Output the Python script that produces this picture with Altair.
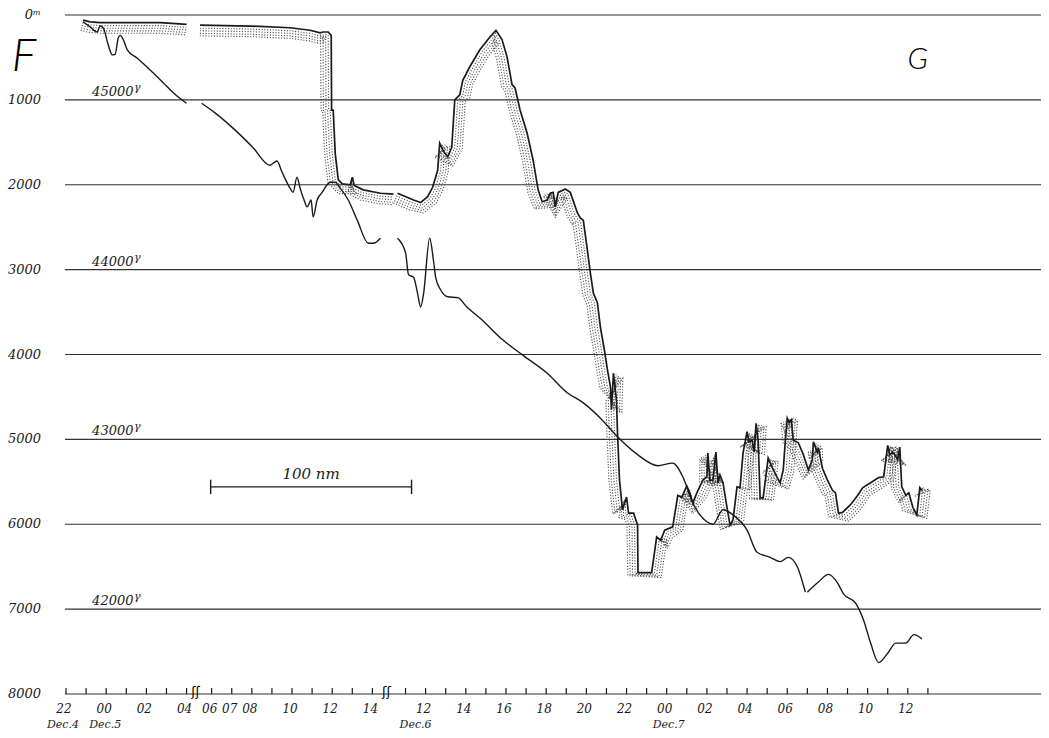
import altair as alt
import pandas as pd
import numpy as np

# ---------------- data ----------------
# Bathymetric profile: (distance along track [nm], depth [m]); record has gaps
depth_a = [(8.5, 60), (12, 80), (17, 90), (32, 90), (47, 90), (60, 110)]
depth_b = [(66.7, 120), (91.6, 130), (111.5, 150), (121.5, 180), (126.5, 210), (128, 200),
           (130.5, 200), (132, 240), (132.2, 1120), (133, 1120), (134, 1630), (135.5, 1940),
           (137.5, 1990), (141.5, 2000), (142.5, 1910), (143.5, 2010), (148, 2060),
           (156.5, 2100), (163, 2110)]
depth_c = [(165, 2100), (173, 2180), (176.5, 2210), (180, 2140), (182.5, 2030), (185, 1830),
           (186, 1510), (188, 1610), (190, 1670), (192, 1560), (193.5, 1000), (196, 940),
           (197.5, 770), (201, 610), (206, 410), (211, 260), (214, 180), (217, 290),
           (219.5, 490), (222, 820), (223.5, 860), (226, 1120), (229.5, 1390), (232.5, 1710),
           (235, 2060), (237, 2200), (239.5, 2180), (241, 2100), (242.5, 2090), (243.5, 2260),
           (245, 2090), (248.5, 2050), (251, 2090), (254.5, 2330), (256, 2390), (257.5, 2420),
           (259.5, 2770), (261, 3040), (262.5, 3280), (264.5, 3390), (266, 3680), (268, 3950),
           (269.5, 4180), (271, 4380), (271.5, 4650), (272.5, 4220), (274, 4540), (274.5, 4920),
           (275.5, 5480), (277, 5830), (279, 5680), (280, 5870), (282.5, 5870), (284.5, 6010),
           (284.7, 6570), (291.5, 6570), (294, 6150), (296, 6190), (298, 6070), (302, 6030),
           (304.5, 5660), (306.5, 5680), (309, 5550), (310.5, 5630), (312, 5750), (314, 5630),
           (317, 5480), (319, 5440), (319.5, 5160), (320.5, 5480), (322, 5480), (323.5, 5150),
           (324.5, 5510), (325.5, 5420), (327, 5510), (329, 5800), (330.5, 6010), (332, 5950),
           (334, 5560), (335.5, 5570), (337, 5160), (339, 4910), (340, 5030), (341.5, 5010),
           (342.5, 5150), (343.5, 4810), (344.5, 5010), (345.5, 5690), (347, 5690),
           (349.5, 5220), (351.5, 5330), (354, 5450), (355.5, 5510), (357, 5360), (358, 5030),
           (359, 4750), (360, 4800), (361, 4770), (362, 5010), (364.5, 5040), (367, 5180),
           (369.5, 5360), (371.5, 5240), (372, 5030), (374, 5150), (374.5, 5100),
           (376.5, 5340), (379, 5480), (381.5, 5600), (383, 5630), (384.5, 5870),
           (386.5, 5860), (390.5, 5770), (394, 5660), (396.5, 5570), (400.5, 5510),
           (404.5, 5450), (407, 5440), (409, 5070), (410, 5180), (411.5, 5150), (412.5, 5180),
           (414, 5240), (415, 5090), (416, 5560), (418, 5660), (419.5, 5630), (421.5, 5800),
           (423.5, 5890), (425, 5570), (426, 5600)]

# Total magnetic force: (distance along track [nm], F [gamma])
mag_a = [(8.5, 45460), (12, 45430), (15.5, 45400), (17, 45435), (18.5, 45425), (21, 45325),
         (23, 45265), (24.5, 45270), (26, 45365), (27, 45380), (28.5, 45355), (30.5, 45295),
         (35.5, 45245), (42, 45175), (48.5, 45100), (53.5, 45040), (60, 44980)]
mag_b = [(67.5, 44980), (74, 44925), (83, 44835), (93, 44720), (101.5, 44615), (103.5, 44630),
         (105, 44640), (107.5, 44575), (111.5, 44480), (113, 44455), (115, 44545),
         (116.5, 44480), (118.5, 44410), (120, 44370), (122, 44410), (123, 44310), (125, 44410),
         (127.5, 44455), (131.5, 44515), (134, 44515), (136.5, 44480), (140.5, 44410),
         (145, 44290), (150.5, 44155), (153, 44155), (156.5, 44185)]
mag_c = [(165, 44185), (169, 44100), (170.5, 43970), (173, 43955), (175, 43860), (176.5, 43780),
         (178, 43860), (181, 44185), (183, 44045), (184, 43955), (186.5, 43880), (190, 43840),
         (195, 43835), (199.5, 43780), (206, 43715), (217.5, 43585), (227.5, 43495),
         (239.5, 43390), (249.5, 43275), (257.5, 43215), (266, 43125), (274.5, 43015),
         (284.5, 42910), (294.5, 42845), (302, 42860), (307, 42780), (312, 42625), (319, 42515),
         (322, 42500), (327, 42585), (332, 42555), (339, 42465), (344, 42335), (350.5, 42305),
         (355.5, 42280), (359.5, 42305), (364, 42250), (368, 42100)]
mag_d = [(369, 42100), (374.5, 42160), (379.5, 42205), (384, 42155), (387, 42090), (393, 42035),
         (397, 41935), (400.5, 41800), (404.5, 41685), (409, 41740), (413, 41800), (418, 41800),
         (422, 41850), (426, 41825)]

# depth axis
depth_levels = [0, 1000, 2000, 3000, 4000, 5000, 6000, 7000, 8000]
depth_labels = ["0ᵐ", "1000", "2000", "3000", "4000", "5000", "6000", "7000", "8000"]
# magnetic reference levels (gamma) -> shown at depth 1000 + 2*(45000-F)
mag_levels = [45000, 44000, 43000, 42000]

# time axis (ship's track, 10 nm per hour)
tick_nm = [0, 10, 20, 30, 40, 50, 60,
           72.5, 82.5, 92.5, 102.5, 112.5, 122.5, 132.5, 142.5, 152.5,
           169, 179, 189, 199, 209, 219, 229, 239, 249, 259, 269, 279, 289, 299,
           309, 319, 329, 339, 349, 359, 369, 379, 389, 399, 409, 419, 429]
hour_label_nm = [0, 20, 40, 60, 72.5, 82.5, 92.5, 112.5, 132.5, 152.5,
                 179, 199, 219, 239, 259, 279, 299, 319, 339, 359, 379, 399, 419]
hour_labels = ["22", "00", "02", "04", "06", "07", "08", "10", "12", "14",
               "12", "14", "16", "18", "20", "22", "00", "02", "04", "06", "08", "10", "12"]
date_nm = [-1.5, 19.5, 174, 300]
date_labels = ["Dec.4", "Dec.5", "Dec.6", "Dec.7"]
break_nm = [64.5, 159.5]

scale_bar_nm = [72, 172]
scale_bar_depth = 5560

# ---------------- geometry ----------------
W, H = 976, 679
XMIN, XMAX = -0.5, 485.3
SX = W / (XMAX - XMIN)
SY = H / 8000.0

def mag_to_depth(f):
    return 1000 + 2 * (45000 - f)

def offset_curve(pts, off_px):
    P = np.array([[x * SX, d * SY] for x, d in pts], dtype=float)
    n = len(P)
    out = []
    for i in range(n):
        a = P[max(i - 1, 0)]
        b = P[min(i + 1, n - 1)]
        t = b - a
        L = np.hypot(t[0], t[1]) or 1.0
        nx, ny = -t[1] / L, t[0] / L
        q = P[i] + np.array([nx, ny]) * off_px
        out.append((q[0] / SX, q[1] / SY))
    return out

rows = []
for si, seg in enumerate([depth_a, depth_b, depth_c]):
    for i, (x, d) in enumerate(seg):
        rows.append({"key": f"b{si}", "i": i, "nm": x, "depth": d})
bathy_df = pd.DataFrame(rows)

rows = []
for si, seg in enumerate([mag_a, mag_b, mag_c, mag_d]):
    for i, (x, f) in enumerate(seg):
        rows.append({"key": f"m{si}", "i": i, "nm": x, "depth": mag_to_depth(f)})
mag_df = pd.DataFrame(rows)

rows = []
for si, seg in enumerate([depth_a, depth_b, depth_c]):
    for k, off in enumerate([3.0, 5.6, 8.2, 10.6]):
        for i, (x, d) in enumerate(offset_curve(seg, off)):
            rows.append({"key": f"s{si}_{k}", "i": i, "nm": x, "depth": d})
stip_df = pd.DataFrame(rows)

xs = alt.Scale(domain=[XMIN, XMAX], nice=False, zero=False)
ys = alt.Scale(domain=[0, 8000], reverse=True, nice=False, zero=False)
X = alt.X("nm:Q", scale=xs, axis=None)
Y = alt.Y("depth:Q", scale=ys, axis=None)

FONT = "DejaVu Serif"
INK = "#1a1a1a"

grid = alt.Chart(pd.DataFrame({"depth": depth_levels})).mark_rule(
    color="#333333", strokeWidth=1.2).encode(y=Y)

stipple = alt.Chart(stip_df).mark_line(
    color="#4a4a4a", strokeWidth=1.1, strokeDash=[1.1, 1.7]).encode(
    x=X, y=Y, detail="key:N", order="i:Q")

bathy = alt.Chart(bathy_df).mark_line(color=INK, strokeWidth=1.7).encode(
    x=X, y=Y, detail="key:N", order="i:Q")

mag = alt.Chart(mag_df).mark_line(color=INK, strokeWidth=1.4, interpolate="monotone").encode(
    x=X, y=Y, detail="key:N", order="i:Q")

ylab = alt.Chart(pd.DataFrame({"depth": depth_levels, "t": depth_labels})).mark_text(
    font=FONT, fontStyle="italic", fontSize=13, align="right", baseline="middle", color=INK
).encode(x=alt.value(-24), y=Y, text="t:N")

mag_lab_df = pd.DataFrame({"depth": [mag_to_depth(v) for v in mag_levels],
                           "t": [str(v) for v in mag_levels],
                           "nm": [13.0] * len(mag_levels),
                           "g": ["γ"] * len(mag_levels)})
maglab = alt.Chart(mag_lab_df).mark_text(
    font=FONT, fontStyle="italic", fontSize=13, align="left", baseline="bottom", dy=-1, color=INK
).encode(x=X, y=Y, text="t:N")
gam = alt.Chart(mag_lab_df).mark_text(
    font=FONT, fontStyle="italic", fontSize=11, align="left", baseline="bottom", dx=42, dy=-7,
    color=INK).encode(x=X, y=Y, text="g:N")

ticks = alt.Chart(pd.DataFrame({"nm": tick_nm})).mark_rule(color=INK, strokeWidth=1.2).encode(
    x=X, y=alt.value(H - 6), y2=alt.value(H))

hl = alt.Chart(pd.DataFrame({"nm": hour_label_nm, "t": hour_labels})).mark_text(
    font=FONT, fontStyle="italic", fontSize=12, align="center", baseline="middle", dx=-2,
    color=INK).encode(x=X, y=alt.value(H + 15), text="t:N")

dl = alt.Chart(pd.DataFrame({"nm": date_nm, "t": date_labels})).mark_text(
    font=FONT, fontStyle="italic", fontSize=11, align="center", baseline="middle",
    color=INK).encode(x=X, y=alt.value(H + 31), text="t:N")

brk = alt.Chart(pd.DataFrame({"nm": break_nm, "t": ["ʃʃ", "ʃʃ"]})).mark_text(
    font="DejaVu Sans", fontSize=13, align="center", baseline="middle", color="#000000"
).encode(x=X, y=alt.value(H - 2), text="t:N")

sb_df = pd.DataFrame({"nm": [scale_bar_nm[0]], "nm2": [scale_bar_nm[1]],
                      "depth": [scale_bar_depth]})
sbar = alt.Chart(sb_df).mark_rule(color=INK, strokeWidth=1.4).encode(
    x=X, x2="nm2:Q", y=Y)
sb_end_df = pd.DataFrame({"nm": scale_bar_nm,
                          "depth": [scale_bar_depth - 85] * 2,
                          "depth2": [scale_bar_depth + 85] * 2})
sbend = alt.Chart(sb_end_df).mark_rule(color=INK, strokeWidth=1.4).encode(
    x=X, y=Y, y2="depth2:Q")
sbtxt = alt.Chart(pd.DataFrame({"nm": [(scale_bar_nm[0] + scale_bar_nm[1]) / 2],
                                "depth": [scale_bar_depth], "t": ["100  nm"]})).mark_text(
    font=FONT, fontStyle="italic", fontSize=15, align="center", baseline="bottom", dy=-5,
    color=INK).encode(x=X, y=Y, text="t:N")

ftxt = alt.Chart(pd.DataFrame({"t": ["F"]})).mark_text(
    font="Lato", fontStyle="italic", fontSize=46, fontWeight=300,
    align="center", baseline="middle", color="#000000").encode(
    x=alt.value(-41), y=alt.value(42), text="t:N")
gtxt = alt.Chart(pd.DataFrame({"nm": [424], "depth": [530], "t": ["G"]})).mark_text(
    font="Lato", fontStyle="italic", fontSize=30, fontWeight=300, align="center",
    baseline="middle", color="#000000").encode(x=X, y=Y, text="t:N")

chart = alt.layer(
    grid, stipple, bathy, mag, ylab, maglab, gam, ticks, hl, dl, brk,
    sbar, sbend, sbtxt, ftxt, gtxt
).properties(
    width=W, height=H,
    padding={"left": 57, "top": 7, "right": 0, "bottom": 36},
    autosize=alt.AutoSizeParams(type="none"),
    background="white",
).configure_view(stroke=None)

chart.save("out.html", embed_options={"renderer": "svg", "actions": False})
